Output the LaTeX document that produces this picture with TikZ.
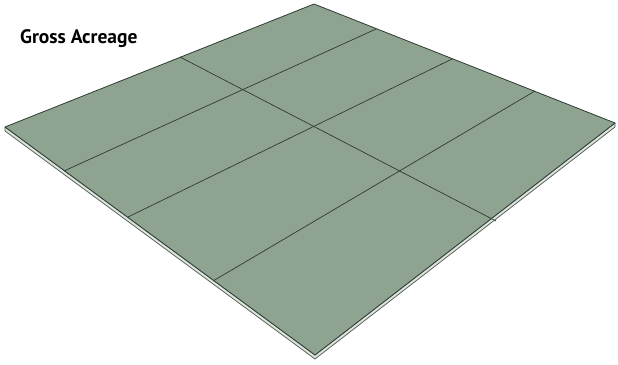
\documentclass[tikz,border=0pt]{standalone}
\usepackage{fontspec}
\setsansfont{PT Sans}
\usetikzlibrary{calc}
\definecolor{lotgreen}{RGB}{143,163,145}
\definecolor{lotline}{RGB}{45,60,50}
\definecolor{slabside}{RGB}{220,226,220}

\begin{document}
\begin{tikzpicture}[x=1pt, y=-1pt,
    lot/.style={fill=lotgreen, draw=lotline, line width=0.8pt, line join=round},
    side/.style={fill=slabside, draw=lotline!85, line width=0.7pt, line join=round},
    parcel/.style={draw=lotline, line width=0.7pt},
    title/.style={font=\sffamily\bfseries\fontsize{19.5}{22}\selectfont, anchor=base west, inner sep=0pt},
]

\useasboundingbox (0,0) rectangle (618,364);

% --- Corners of the lot ---
\coordinate (top) at (314,4);
\coordinate (left) at (5,127);
\coordinate (bot) at (315,355);
\coordinate (right) at (615,123);

% --- Slab edge (front faces) ---
\draw[side] (left) -- (bot) -- (right) -- ($(right)+(0,4)$) -- ($(bot)+(0,4)$) -- ($(left)+(0,4)$) -- cycle;

% --- Top surface ---
\draw[lot] (top) -- (right) -- (bot) -- (left) -- cycle;

% --- Parcel lines ---
\coordinate (d1a) at (180,57);
\coordinate (d1b) at (496,221);
\coordinate (r1a) at (376,29);
\coordinate (r1b) at (64,171);
\coordinate (r2a) at (452,59);
\coordinate (r2b) at (128,217);
\coordinate (r3a) at (535,91);
\coordinate (r3b) at (213,281);
\draw[parcel] (d1a) -- (d1b);
\draw[parcel] (r1a) -- (r1b);
\draw[parcel] (r2a) -- (r2b);
\draw[parcel] (r3a) -- (r3b);

% --- Title ---
\node[title] (lbl) at (20,43) {Gross Acreage};

\end{tikzpicture}
\end{document}
